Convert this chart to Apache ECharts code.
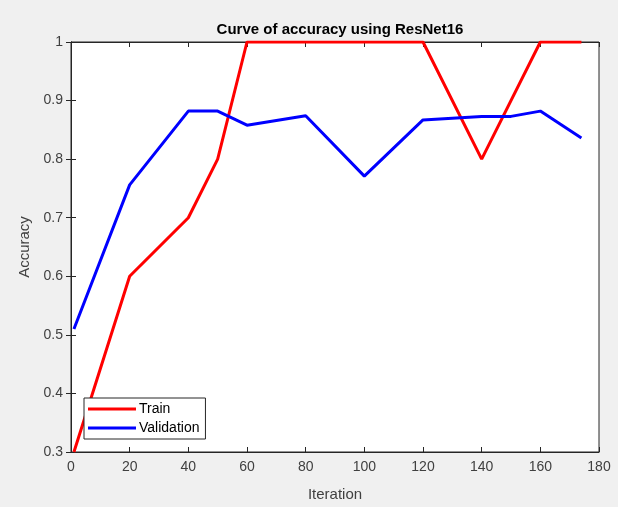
<!DOCTYPE html>
<html>
<head>
<meta charset="utf-8" />
<title>Curve of accuracy</title>
<script src="https://cdn.jsdelivr.net/npm/echarts@6/dist/echarts.min.js"></script>
</head>
<body style="margin:0;background:#f0f0f0;">
<div id="chart" style="width:618px;height:507px;"></div>
<script>
// values
var trainIter = [1, 20, 40, 50, 60, 80, 100, 120, 140, 160, 174];
var trainAcc  = [0.3, 0.6, 0.7, 0.8, 1, 1, 1, 1, 0.8, 1, 1];
var valIter = [1, 20, 40, 50, 60, 80, 100, 120, 140, 150, 160, 174];
var valAcc  = [0.51, 0.756, 0.882, 0.882, 0.858, 0.874, 0.771, 0.867, 0.873, 0.873, 0.882, 0.836];

function pairs(xs, ys) {
  return xs.map(function (x, i) { return [x, ys[i]]; });
}

var axisCol = '#262626';
var labelCol = '#404040';
var font = 'Liberation Sans, Arial, sans-serif';

var chart = echarts.init(document.getElementById('chart'), null, { renderer: 'canvas' });

var option = {
  backgroundColor: '#f0f0f0',
  animation: false,
  title: {
    text: 'Curve of accuracy using ResNet16',
    left: 335, top: 17, textAlign: 'center',
    textStyle: { fontFamily: font, fontSize: 15, fontWeight: 'bold', color: '#000' }
  },
  legend: {
    orient: 'vertical',
    left: 84, top: 398,
    padding: [4, 6, 4, 4],
    itemGap: 5,
    itemWidth: 48, itemHeight: 3,
    icon: 'rect',
    backgroundColor: '#fff',
    borderColor: axisCol, borderWidth: 1, borderRadius: 0,
    textStyle: { fontFamily: font, fontSize: 14, color: '#000', padding: [0, 0, 0, -2] },
    data: ['Train', 'Validation']
  },
  grid: { left: 71, right: 19, top: 42, bottom: 54, show: true, backgroundColor: '#fff', borderColor: axisCol, borderWidth: 1 },
  xAxis: [{
    type: 'value', min: 0, max: 180, interval: 20,
    name: 'Iteration', nameLocation: 'center', nameGap: 35,
    nameTextStyle: { fontFamily: font, fontSize: 15, color: labelCol },
    axisLine: { show: true, lineStyle: { color: axisCol } },
    axisTick: { show: true, inside: true, length: 5, lineStyle: { color: axisCol } },
    axisLabel: { fontFamily: font, fontSize: 14, color: labelCol, margin: 8 },
    splitLine: { show: false }
  }, {
    type: 'value', min: 0, max: 180, interval: 20, position: 'top',
    axisLine: { show: true, lineStyle: { color: axisCol } },
    axisTick: { show: true, inside: true, length: 5, lineStyle: { color: axisCol } },
    axisLabel: { show: false },
    splitLine: { show: false }
  }],
  yAxis: [{
    type: 'value', min: 0.3, max: 1, interval: 0.1,
    name: 'Accuracy', nameLocation: 'center', nameGap: 37,
    nameTextStyle: { fontFamily: font, fontSize: 15, color: labelCol },
    axisLine: { show: true, lineStyle: { color: axisCol } },
    axisTick: { show: true, inside: true, length: 5, lineStyle: { color: axisCol } },
    axisLabel: {
      fontFamily: font, fontSize: 14, color: labelCol, margin: 8,
      formatter: function (v) { return Math.abs(v - 1) < 1e-6 ? '1' : v.toFixed(1); }
    },
    splitLine: { show: false }
  }, {
    type: 'value', min: 0.3, max: 1, interval: 0.1, position: 'right',
    axisLine: { show: true, lineStyle: { color: axisCol } },
    axisTick: { show: true, inside: true, length: 5, lineStyle: { color: axisCol } },
    axisLabel: { show: false },
    splitLine: { show: false }
  }],
  series: [{
    name: 'Train', type: 'line', showSymbol: false, symbol: 'none',
    data: pairs(trainIter, trainAcc),
    lineStyle: { color: '#ff0000', width: 3 }, itemStyle: { color: '#ff0000' }
  }, {
    name: 'Validation', type: 'line', showSymbol: false, symbol: 'none',
    data: pairs(valIter, valAcc),
    lineStyle: { color: '#0000ff', width: 3 }, itemStyle: { color: '#0000ff' }
  }]
};
chart.setOption(option);
</script>
</body>
</html>
